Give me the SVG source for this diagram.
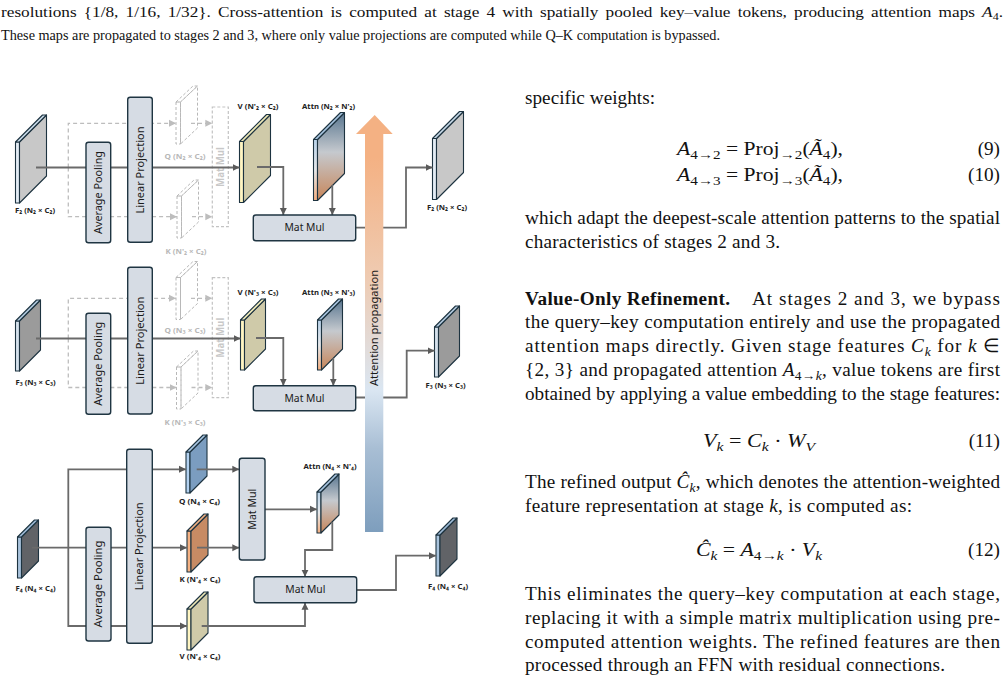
<svg xmlns="http://www.w3.org/2000/svg" width="1006" height="684" viewBox="0 0 1006 684">
<defs>
<style>
.page{font-family:"Liberation Serif","Times New Roman",serif;fill:#111}
.cap{font-size:15px}
.body{font-size:19.2px}
.it{font-style:italic}
.lbl{font-family:"Noto Sans","DejaVu Sans",sans-serif;font-size:7px;font-weight:bold;fill:#222}
.glbl{font-family:"Noto Sans","DejaVu Sans",sans-serif;font-size:7px;font-weight:bold;fill:#b8b8b8}
.box{fill:#d6dce4;stroke:#1f3542;stroke-width:1.4}
.boxt{font-family:"Noto Sans","DejaVu Sans",sans-serif;font-size:10.5px;fill:#1a1a1a}
.gbox{fill:none;stroke:#c3c3c3;stroke-width:1.2;stroke-dasharray:3 2}
.gboxt{font-family:"Noto Sans","DejaVu Sans",sans-serif;font-size:10px;font-weight:bold;fill:#c8c8c8}
.ln{fill:none;stroke:#6a6a6a;stroke-width:1.8}
.dl{fill:none;stroke:#bdbdbd;stroke-width:1.3;stroke-dasharray:4 3}
.pl{stroke:#1d3340;stroke-width:1.1;stroke-linejoin:round}
.gp{fill:none;stroke:#b8b8b8;stroke-width:1;stroke-dasharray:3 2}
</style>
<marker id="ah" markerWidth="8" markerHeight="8" refX="7" refY="4" orient="auto" markerUnits="userSpaceOnUse"><path d="M0,0.5 L7,4 L0,7.5 z" fill="#5a5a5a"/></marker>
<marker id="gah" markerWidth="8" markerHeight="8" refX="7" refY="4" orient="auto" markerUnits="userSpaceOnUse"><path d="M0,0.5 L7,4 L0,7.5 z" fill="#bdbdbd"/></marker>
<linearGradient id="attnFace" x1="0" y1="0" x2="0" y2="1"><stop offset="0" stop-color="#57758f"/><stop offset="0.45" stop-color="#c5c9ce"/><stop offset="1" stop-color="#c8865a"/></linearGradient>
<linearGradient id="attnStrip" x1="0" y1="0" x2="0" y2="1"><stop offset="0" stop-color="#b9d3ea"/><stop offset="0.5" stop-color="#e6e8ea"/><stop offset="1" stop-color="#f2ae80"/></linearGradient>
<linearGradient id="prop" gradientUnits="userSpaceOnUse" x1="0" y1="115" x2="0" y2="532"><stop offset="0" stop-color="#f4b183"/><stop offset="0.1" stop-color="#f4b183"/><stop offset="0.38" stop-color="#efcab0"/><stop offset="0.66" stop-color="#dae6f2"/><stop offset="0.8" stop-color="#a8bed4"/><stop offset="1" stop-color="#7e9ebd"/></linearGradient>
</defs>
<rect width="1006" height="684" fill="#fff"/>

<g id="caption-text" class="page cap">
<text x="1" y="17" word-spacing="2.5" textLength="1002" lengthAdjust="spacingAndGlyphs">resolutions {1/8, 1/16, 1/32}. Cross-attention is computed at stage 4 with spatially pooled key–value tokens, producing attention maps <tspan class="it">A</tspan><tspan dy="3" font-size="10.5">4</tspan><tspan dy="-3">.</tspan></text>
<text x="1" y="40" textLength="719" lengthAdjust="spacingAndGlyphs">These maps are propagated to stages 2 and 3, where only value projections are computed while Q–K computation is bypassed.</text>
</g>

<g id="body-text" class="page body">
<text x="525" y="104" textLength="130" lengthAdjust="spacing">specific weights:</text>
<text x="677" y="155" textLength="166" lengthAdjust="spacingAndGlyphs"><tspan class="it">A</tspan><tspan dy="4" font-size="13.5">4→2</tspan><tspan dy="-4"> = Proj</tspan><tspan dy="4" font-size="13.5">→2</tspan><tspan dy="-4">(</tspan><tspan class="it">Ã</tspan><tspan dy="4" font-size="13.5">4</tspan><tspan dy="-4">),</tspan></text>
<text x="1000" y="155" text-anchor="end">(9)</text>
<text x="677" y="181" textLength="166" lengthAdjust="spacingAndGlyphs"><tspan class="it">A</tspan><tspan dy="4" font-size="13.5">4→3</tspan><tspan dy="-4"> = Proj</tspan><tspan dy="4" font-size="13.5">→3</tspan><tspan dy="-4">(</tspan><tspan class="it">Ã</tspan><tspan dy="4" font-size="13.5">4</tspan><tspan dy="-4">),</tspan></text>
<text x="1000" y="181" text-anchor="end">(10)</text>
<text x="525" y="224" textLength="475" lengthAdjust="spacing">which adapt the deepest-scale attention patterns to the spatial</text>
<text x="525" y="248" textLength="255" lengthAdjust="spacing">characteristics of stages 2 and 3.</text>
<text x="525" y="305" textLength="205" lengthAdjust="spacing" font-weight="bold">Value-Only Refinement.</text>
<text x="752" y="305" textLength="248" lengthAdjust="spacing">At stages 2 and 3, we bypass</text>
<text x="525" y="328" textLength="475" lengthAdjust="spacing">the query–key computation entirely and use the propagated</text>
<text x="525" y="352" textLength="475" lengthAdjust="spacing">attention maps directly.  Given stage features <tspan class="it">C</tspan><tspan dy="4" font-size="13.5" class="it">k</tspan><tspan dy="-4"> for </tspan><tspan class="it">k</tspan> ∈</text>
<text x="525" y="376" textLength="475" lengthAdjust="spacing">{2, 3} and propagated attention <tspan class="it">A</tspan><tspan dy="4" font-size="13.5">4→<tspan class="it">k</tspan></tspan><tspan dy="-4">, value tokens are first</tspan></text>
<text x="525" y="400" textLength="475" lengthAdjust="spacing">obtained by applying a value embedding to the stage features:</text>
<text x="703" y="447" textLength="112" lengthAdjust="spacingAndGlyphs"><tspan class="it">V</tspan><tspan dy="4" font-size="13.5" class="it">k</tspan><tspan dy="-4"> = </tspan><tspan class="it">C</tspan><tspan dy="4" font-size="13.5" class="it">k</tspan><tspan dy="-4"> · </tspan><tspan class="it">W</tspan><tspan dy="4" font-size="13.5" class="it">V</tspan></text>
<text x="1000" y="447" text-anchor="end">(11)</text>
<text x="525" y="488" textLength="475" lengthAdjust="spacing">The refined output <tspan class="it">Ĉ</tspan><tspan dy="4" font-size="13.5" class="it">k</tspan><tspan dy="-4">, which denotes the attention-weighted</tspan></text>
<text x="525" y="512" textLength="387" lengthAdjust="spacing">feature representation at stage <tspan class="it">k</tspan>, is computed as:</text>
<text x="696" y="556" textLength="126" lengthAdjust="spacingAndGlyphs"><tspan class="it">Ĉ</tspan><tspan dy="4" font-size="13.5" class="it">k</tspan><tspan dy="-4"> = </tspan><tspan class="it">A</tspan><tspan dy="4" font-size="13.5">4→<tspan class="it">k</tspan></tspan><tspan dy="-4"> · </tspan><tspan class="it">V</tspan><tspan dy="4" font-size="13.5" class="it">k</tspan></text>
<text x="1000" y="556" text-anchor="end">(12)</text>
<text x="525" y="600" textLength="475" lengthAdjust="spacing">This eliminates the query–key computation at each stage,</text>
<text x="525" y="624" textLength="475" lengthAdjust="spacing">replacing it with a simple matrix multiplication using pre-</text>
<text x="525" y="648" textLength="475" lengthAdjust="spacing">computed attention weights.  The refined features are then</text>
<text x="525" y="671" textLength="420" lengthAdjust="spacing">processed through an FFN with residual connections.</text>
</g>

<!-- ===== plates (stage 2, large) ===== -->
<g id="F2-in" class="pl" transform="translate(15.5,142)"><rect x="0" y="0" width="4" height="61" fill="#e4edf5"/><polygon points="4,0 31,-27 31,34 4,61" fill="#c8c8c8"/><polygon points="0,0 27,-27 31,-27 4,0" fill="#c9dbea"/></g>
<g id="V2" class="pl" transform="translate(239.5,141.5)"><rect x="0" y="0" width="4" height="61" fill="#fff5c2"/><polygon points="4,0 31,-27 31,34 4,61" fill="#cfcaa9"/><polygon points="0,0 27,-27 31,-27 4,0" fill="#efe9b8"/></g>
<g id="Attn2" class="pl" transform="translate(313.5,139.5)"><rect x="0" y="0" width="4" height="61" fill="url(#attnStrip)"/><polygon points="4,0 31,-27 31,34 4,61" fill="url(#attnFace)"/><polygon points="0,0 27,-27 31,-27 4,0" fill="#a9c6e2"/></g>
<g id="F2-out" class="pl" transform="translate(432.5,138.5)"><rect x="0" y="0" width="4" height="61" fill="#e4edf5"/><polygon points="4,0 31,-27 31,34 4,61" fill="#c8c8c8"/><polygon points="0,0 27,-27 31,-27 4,0" fill="#c9dbea"/></g>
<g id="Q2-ghost" class="gp" transform="translate(176,102)"><rect x="0" y="0" width="4.5" height="42"/><polygon points="4.5,0 21.5,-16 21.5,26 4.5,42"/><polygon points="0,0 17,-16 21.5,-16 4.5,0"/></g>
<g id="K2-ghost" class="gp" transform="translate(177,196)"><rect x="0" y="0" width="4.5" height="42"/><polygon points="4.5,0 21.5,-16 21.5,26 4.5,42"/><polygon points="0,0 17,-16 21.5,-16 4.5,0"/></g>
<g id="MatMul2-ghost"><rect class="gbox" x="212.3" y="107" width="16" height="119.7"/><text class="gboxt" transform="translate(220.3,167) rotate(-90)" text-anchor="middle" dy="0.35em" textLength="40" lengthAdjust="spacingAndGlyphs">Mat Mul</text></g>

<!-- ===== plates (stage 3, mid) ===== -->
<g id="F3-in" class="pl" transform="translate(15.5,321)"><rect x="0" y="0" width="4" height="50" fill="#d6e2ed"/><polygon points="4,0 25,-21 25,29 4,50" fill="#9b9b9b"/><polygon points="0,0 21,-21 25,-21 4,0" fill="#b3cbe0"/></g>
<g id="V3" class="pl" transform="translate(240.5,320)"><rect x="0" y="0" width="4" height="50" fill="#fff5c2"/><polygon points="4,0 25,-21 25,29 4,50" fill="#cfcaa9"/><polygon points="0,0 21,-21 25,-21 4,0" fill="#efe9b8"/></g>
<g id="Attn3" class="pl" transform="translate(317.5,320)"><rect x="0" y="0" width="4" height="50" fill="url(#attnStrip)"/><polygon points="4,0 25,-21 25,29 4,50" fill="url(#attnFace)"/><polygon points="0,0 21,-21 25,-21 4,0" fill="#a9c6e2"/></g>
<g id="F3-out" class="pl" transform="translate(434.5,327)"><rect x="0" y="0" width="4" height="50" fill="#d6e2ed"/><polygon points="4,0 25,-21 25,29 4,50" fill="#9b9b9b"/><polygon points="0,0 21,-21 25,-21 4,0" fill="#b3cbe0"/></g>
<g id="Q3-ghost" class="gp" transform="translate(176,277.5)"><rect x="0" y="0" width="4.5" height="42"/><polygon points="4.5,0 21.5,-16 21.5,26 4.5,42"/><polygon points="0,0 17,-16 21.5,-16 4.5,0"/></g>
<g id="K3-ghost" class="gp" transform="translate(176.5,367)"><rect x="0" y="0" width="4.5" height="42"/><polygon points="4.5,0 21.5,-16 21.5,26 4.5,42"/><polygon points="0,0 17,-16 21.5,-16 4.5,0"/></g>
<g id="MatMul3-ghost"><rect class="gbox" x="212.3" y="277.7" width="16" height="120"/><text class="gboxt" transform="translate(220.3,337.7) rotate(-90)" text-anchor="middle" dy="0.35em" textLength="40" lengthAdjust="spacingAndGlyphs">Mat Mul</text></g>

<!-- ===== plates (stage 4, small) ===== -->
<g id="F4-in" class="pl" transform="translate(17.5,537)"><rect x="0" y="0" width="4" height="41" fill="#a9c3dc"/><polygon points="4,0 21,-17 21,24 4,41" fill="#616367"/><polygon points="0,0 17,-17 21,-17 4,0" fill="#9fbcd8"/></g>
<g id="Q4" class="pl" transform="translate(186,452)"><rect x="0" y="0" width="4" height="41" fill="#b3d1f0"/><polygon points="4,0 21,-17 21,24 4,41" fill="#7b9dc0"/><polygon points="0,0 17,-17 21,-17 4,0" fill="#a9c8e6"/></g>
<g id="K4" class="pl" transform="translate(187,531)"><rect x="0" y="0" width="4" height="41" fill="#f4b183"/><polygon points="4,0 21,-17 21,24 4,41" fill="#c78b64"/><polygon points="0,0 17,-17 21,-17 4,0" fill="#f4b183"/></g>
<g id="V4" class="pl" transform="translate(187,609)"><rect x="0" y="0" width="4" height="41" fill="#fff5c2"/><polygon points="4,0 21,-17 21,24 4,41" fill="#cfcaa9"/><polygon points="0,0 17,-17 21,-17 4,0" fill="#efe9b8"/></g>
<g id="Attn4" class="pl" transform="translate(317,492)"><rect x="0" y="0" width="4" height="41" fill="url(#attnStrip)"/><polygon points="4,0 22,-18 22,23 4,41" fill="url(#attnFace)"/><polygon points="0,0 18,-18 22,-18 4,0" fill="#a9c6e2"/></g>
<g id="F4-out" class="pl" transform="translate(436,535)"><rect x="0" y="0" width="4" height="41" fill="#a9c3dc"/><polygon points="4,0 21,-17 21,24 4,41" fill="#616367"/><polygon points="0,0 17,-17 21,-17 4,0" fill="#9fbcd8"/></g>

<!-- ===== connectors ===== -->
<g id="connectors">
<path class="dl" d="M68.3,167.5 V123.3 H176" marker-end="url(#gah)"/>
<path class="dl" d="M68.3,167.5 V216.7 H177" marker-end="url(#gah)"/>
<path class="dl" d="M191,123.3 H212.3" marker-end="url(#gah)"/>
<path class="dl" d="M192,216.7 H212.3" marker-end="url(#gah)"/>
<path class="ln" d="M36,167.5 H239.5" marker-end="url(#ah)"/>
<path class="ln" d="M257,167 H283.3 V215" marker-end="url(#ah)"/>
<path class="ln" d="M332.3,185 V215" marker-end="url(#ah)"/>
<path class="ln" d="M355.7,227.7 H406 V167.5 H432.5" marker-end="url(#ah)"/>

<path class="dl" d="M68.3,338.5 V298.3 H176" marker-end="url(#gah)"/>
<path class="dl" d="M68.3,338.5 V387.5 H176.5" marker-end="url(#gah)"/>
<path class="dl" d="M191,298.3 H212.3" marker-end="url(#gah)"/>
<path class="dl" d="M191.5,387.5 H212.3" marker-end="url(#gah)"/>
<path class="ln" d="M36,338.5 H240.5" marker-end="url(#ah)"/>
<path class="ln" d="M256,338 H283.3 V385.7" marker-end="url(#ah)"/>
<path class="ln" d="M333.3,358 V385.7" marker-end="url(#ah)"/>
<path class="ln" d="M355.7,397.5 H406.7 V350.7 H434.5" marker-end="url(#ah)"/>

<path class="ln" d="M32,547.7 H187" marker-end="url(#ah)"/>
<path class="ln" d="M68.3,547.7 V469.3 H186" marker-end="url(#ah)"/>
<path class="ln" d="M68.3,547.7 V626 H187" marker-end="url(#ah)"/>
<path class="ln" d="M196.7,469.3 H239.3" marker-end="url(#ah)"/>
<path class="ln" d="M197,547.7 H239.3" marker-end="url(#ah)"/>
<path class="ln" d="M265,509.3 H317" marker-end="url(#ah)"/>
<path class="ln" d="M332.3,522 V550 H305 V576.7" marker-end="url(#ah)"/>
<path class="ln" d="M201.7,626 H305 V602.7" marker-end="url(#ah)"/>
<path class="ln" d="M356.7,590 H396 V555.7 H436" marker-end="url(#ah)"/>
</g>

<!-- ===== boxes ===== -->
<g id="AvgPool2"><rect class="box" x="86" y="142.3" width="24.7" height="100.4" rx="2.5"/><text class="boxt" transform="translate(98.3,192.5) rotate(-90)" text-anchor="middle" dy="0.35em" textLength="83" lengthAdjust="spacingAndGlyphs">Average Pooling</text></g>
<g id="LinProj2"><rect class="box" x="127.7" y="97.3" width="24.6" height="145" rx="2.5"/><text class="boxt" transform="translate(140,170) rotate(-90)" text-anchor="middle" dy="0.35em" textLength="87" lengthAdjust="spacingAndGlyphs">Linear Projection</text></g>
<g id="MatMul2"><rect class="box" x="253.3" y="215" width="102.4" height="25.7" rx="2.5"/><text class="boxt" x="304.5" y="227.8" text-anchor="middle" dy="0.35em" textLength="40" lengthAdjust="spacingAndGlyphs">Mat Mul</text></g>

<g id="AvgPool3"><rect class="box" x="86" y="313.3" width="24.7" height="101" rx="2.5"/><text class="boxt" transform="translate(98.3,363.8) rotate(-90)" text-anchor="middle" dy="0.35em" textLength="84" lengthAdjust="spacingAndGlyphs">Average Pooling</text></g>
<g id="LinProj3"><rect class="box" x="127.7" y="267.3" width="24.6" height="146.7" rx="2.5"/><text class="boxt" transform="translate(140,340.7) rotate(-90)" text-anchor="middle" dy="0.35em" textLength="88" lengthAdjust="spacingAndGlyphs">Linear Projection</text></g>
<g id="MatMul3"><rect class="box" x="253.3" y="385.7" width="102.4" height="25" rx="2.5"/><text class="boxt" x="304.5" y="398.2" text-anchor="middle" dy="0.35em" textLength="40" lengthAdjust="spacingAndGlyphs">Mat Mul</text></g>

<g id="AvgPool4"><rect class="box" x="86" y="527.3" width="25" height="113.7" rx="2.5"/><text class="boxt" transform="translate(98.5,584) rotate(-90)" text-anchor="middle" dy="0.35em" textLength="87" lengthAdjust="spacingAndGlyphs">Average Pooling</text></g>
<g id="LinProj4"><rect class="box" x="126.7" y="449.3" width="25.6" height="194" rx="2.5"/><text class="boxt" transform="translate(139.5,546.3) rotate(-90)" text-anchor="middle" dy="0.35em" textLength="88" lengthAdjust="spacingAndGlyphs">Linear Projection</text></g>
<g id="MatMul4-QK"><rect class="box" x="239.3" y="458.3" width="25.7" height="101.7" rx="2.5"/><text class="boxt" transform="translate(252.2,509.2) rotate(-90)" text-anchor="middle" dy="0.35em" textLength="41" lengthAdjust="spacingAndGlyphs">Mat Mul</text></g>
<g id="MatMul4"><rect class="box" x="254" y="576.7" width="102.7" height="26" rx="2.5"/><text class="boxt" x="305.3" y="589.7" text-anchor="middle" dy="0.35em" textLength="40" lengthAdjust="spacingAndGlyphs">Mat Mul</text></g>

<!-- ===== attention propagation arrow ===== -->
<g id="attention-propagation">
<polygon points="365,532 365,134 356,134 374.7,115 392.7,134 383.3,134 383.3,532" fill="url(#prop)"/>
<text class="boxt" transform="translate(374.2,328) rotate(-90)" text-anchor="middle" dy="0.35em" font-size="11" textLength="116" lengthAdjust="spacingAndGlyphs">Attention propagation</text>
</g>

<!-- ===== labels ===== -->
<g id="labels">
<text class="lbl" x="35" y="213" text-anchor="middle" textLength="40" lengthAdjust="spacingAndGlyphs">F₂ (N₂ × C₂)</text>
<text class="glbl" x="185" y="159" text-anchor="middle" textLength="41" lengthAdjust="spacingAndGlyphs">Q (N₂ × C₂)</text>
<text class="glbl" x="186" y="254" text-anchor="middle" textLength="41" lengthAdjust="spacingAndGlyphs">K (N'₂ × C₂)</text>
<text class="lbl" x="258" y="109" text-anchor="middle" textLength="41" lengthAdjust="spacingAndGlyphs">V (N'₂ × C₂)</text>
<text class="lbl" x="328.5" y="109" text-anchor="middle" textLength="53" lengthAdjust="spacingAndGlyphs">Attn (N₂ × N'₂)</text>
<text class="lbl" x="447" y="210" text-anchor="middle" textLength="40" lengthAdjust="spacingAndGlyphs">F₂ (N₂ × C₂)</text>

<text class="lbl" x="35.5" y="385" text-anchor="middle" textLength="40" lengthAdjust="spacingAndGlyphs">F₃ (N₃ × C₃)</text>
<text class="glbl" x="185" y="333" text-anchor="middle" textLength="41" lengthAdjust="spacingAndGlyphs">Q (N₃ × C₃)</text>
<text class="glbl" x="185" y="425" text-anchor="middle" textLength="41" lengthAdjust="spacingAndGlyphs">K (N'₃ × C₃)</text>
<text class="lbl" x="258" y="295" text-anchor="middle" textLength="41" lengthAdjust="spacingAndGlyphs">V (N'₃ × C₃)</text>
<text class="lbl" x="328.5" y="295" text-anchor="middle" textLength="53" lengthAdjust="spacingAndGlyphs">Attn (N₃ × N'₃)</text>
<text class="lbl" x="445.5" y="388" text-anchor="middle" textLength="40" lengthAdjust="spacingAndGlyphs">F₃ (N₃ × C₃)</text>

<text class="lbl" x="35.5" y="591" text-anchor="middle" textLength="40" lengthAdjust="spacingAndGlyphs">F₄ (N₄ × C₄)</text>
<text class="lbl" x="199.5" y="504" text-anchor="middle" textLength="41" lengthAdjust="spacingAndGlyphs">Q (N₄ × C₄)</text>
<text class="lbl" x="200" y="582" text-anchor="middle" textLength="41" lengthAdjust="spacingAndGlyphs">K (N'₄ × C₄)</text>
<text class="lbl" x="200" y="659" text-anchor="middle" textLength="41" lengthAdjust="spacingAndGlyphs">V (N'₄ × C₄)</text>
<text class="lbl" x="330" y="469" text-anchor="middle" textLength="53" lengthAdjust="spacingAndGlyphs">Attn (N₄ × N'₄)</text>
<text class="lbl" x="448" y="589" text-anchor="middle" textLength="40" lengthAdjust="spacingAndGlyphs">F₄ (N₄ × C₄)</text>
</g>
</svg>
